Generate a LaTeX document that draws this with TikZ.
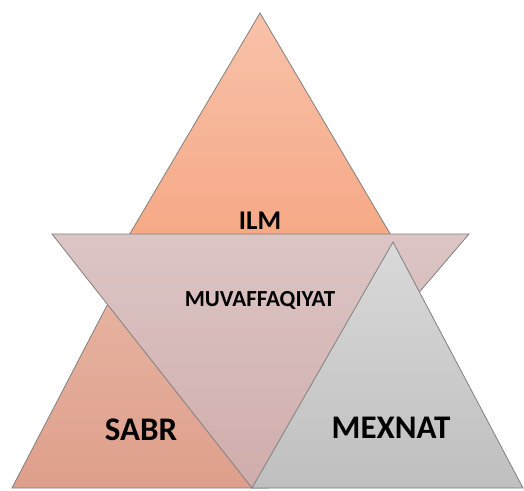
\documentclass[tikz,border=0pt]{standalone}
\usepackage{fontspec}
\setmainfont{Carlito}
\usepackage{tikz}
\definecolor{ilmtop}{HTML}{F8C2AA}
\definecolor{ilmbot}{HTML}{F5A682}
\definecolor{sabrtop}{HTML}{E9B8A6}
\definecolor{sabrbot}{HTML}{DE9F8C}
\definecolor{muvtop}{HTML}{DCC5C5}
\definecolor{muvbot}{HTML}{CFADAB}
\definecolor{mextop}{HTML}{D9D9D9}
\definecolor{mexbot}{HTML}{BFBFBF}
\definecolor{edge}{HTML}{808080}

\begin{document}
\begin{tikzpicture}[
  x=1pt, y=-1pt,
  tri/.style={draw=edge, line width=0.8pt, line join=miter},
  lbl/.style={font=\bfseries, text=black, inner sep=0pt},
]
\useasboundingbox (0,0) rectangle (524,490);

% corners
\coordinate (ilmA) at (260,13);
\coordinate (ilmL) at (115,259);
\coordinate (ilmR) at (405,259);
\coordinate (sabA) at (140,242);
\coordinate (sabL) at (12,488);
\coordinate (sabR) at (268,488);
\coordinate (muvL) at (52,234);
\coordinate (muvR) at (469,234);
\coordinate (muvB) at (252,488);
\coordinate (mexA) at (393,242);
\coordinate (mexL) at (252,488);
\coordinate (mexR) at (523,488);

% triangles, back to front
\shade[tri, top color=ilmtop, bottom color=ilmbot] (ilmA) -- (ilmR) -- (ilmL) -- cycle;
\shade[tri, top color=sabrtop, bottom color=sabrbot] (sabA) -- (sabR) -- (sabL) -- cycle;
\shade[tri, top color=muvtop, bottom color=muvbot] (muvL) -- (muvR) -- (muvB) -- cycle;
\shade[tri, top color=mextop, bottom color=mexbot] (mexA) -- (mexR) -- (mexL) -- cycle;

% labels
\node[lbl, font=\fontsize{27}{31}\selectfont\bfseries] (ilm) at (260,221) {ILM};
\node[lbl, font=\fontsize{23}{27}\selectfont\bfseries] (muv) at (260,300) {MUVAFFAQIYAT};
\node[lbl, font=\fontsize{33}{38}\selectfont\bfseries] (sabr) at (141,430) {SABR};
\node[lbl, font=\fontsize{33}{38}\selectfont\bfseries] (mexnat) at (391,428) {MEXNAT};

\end{tikzpicture}
\end{document}
